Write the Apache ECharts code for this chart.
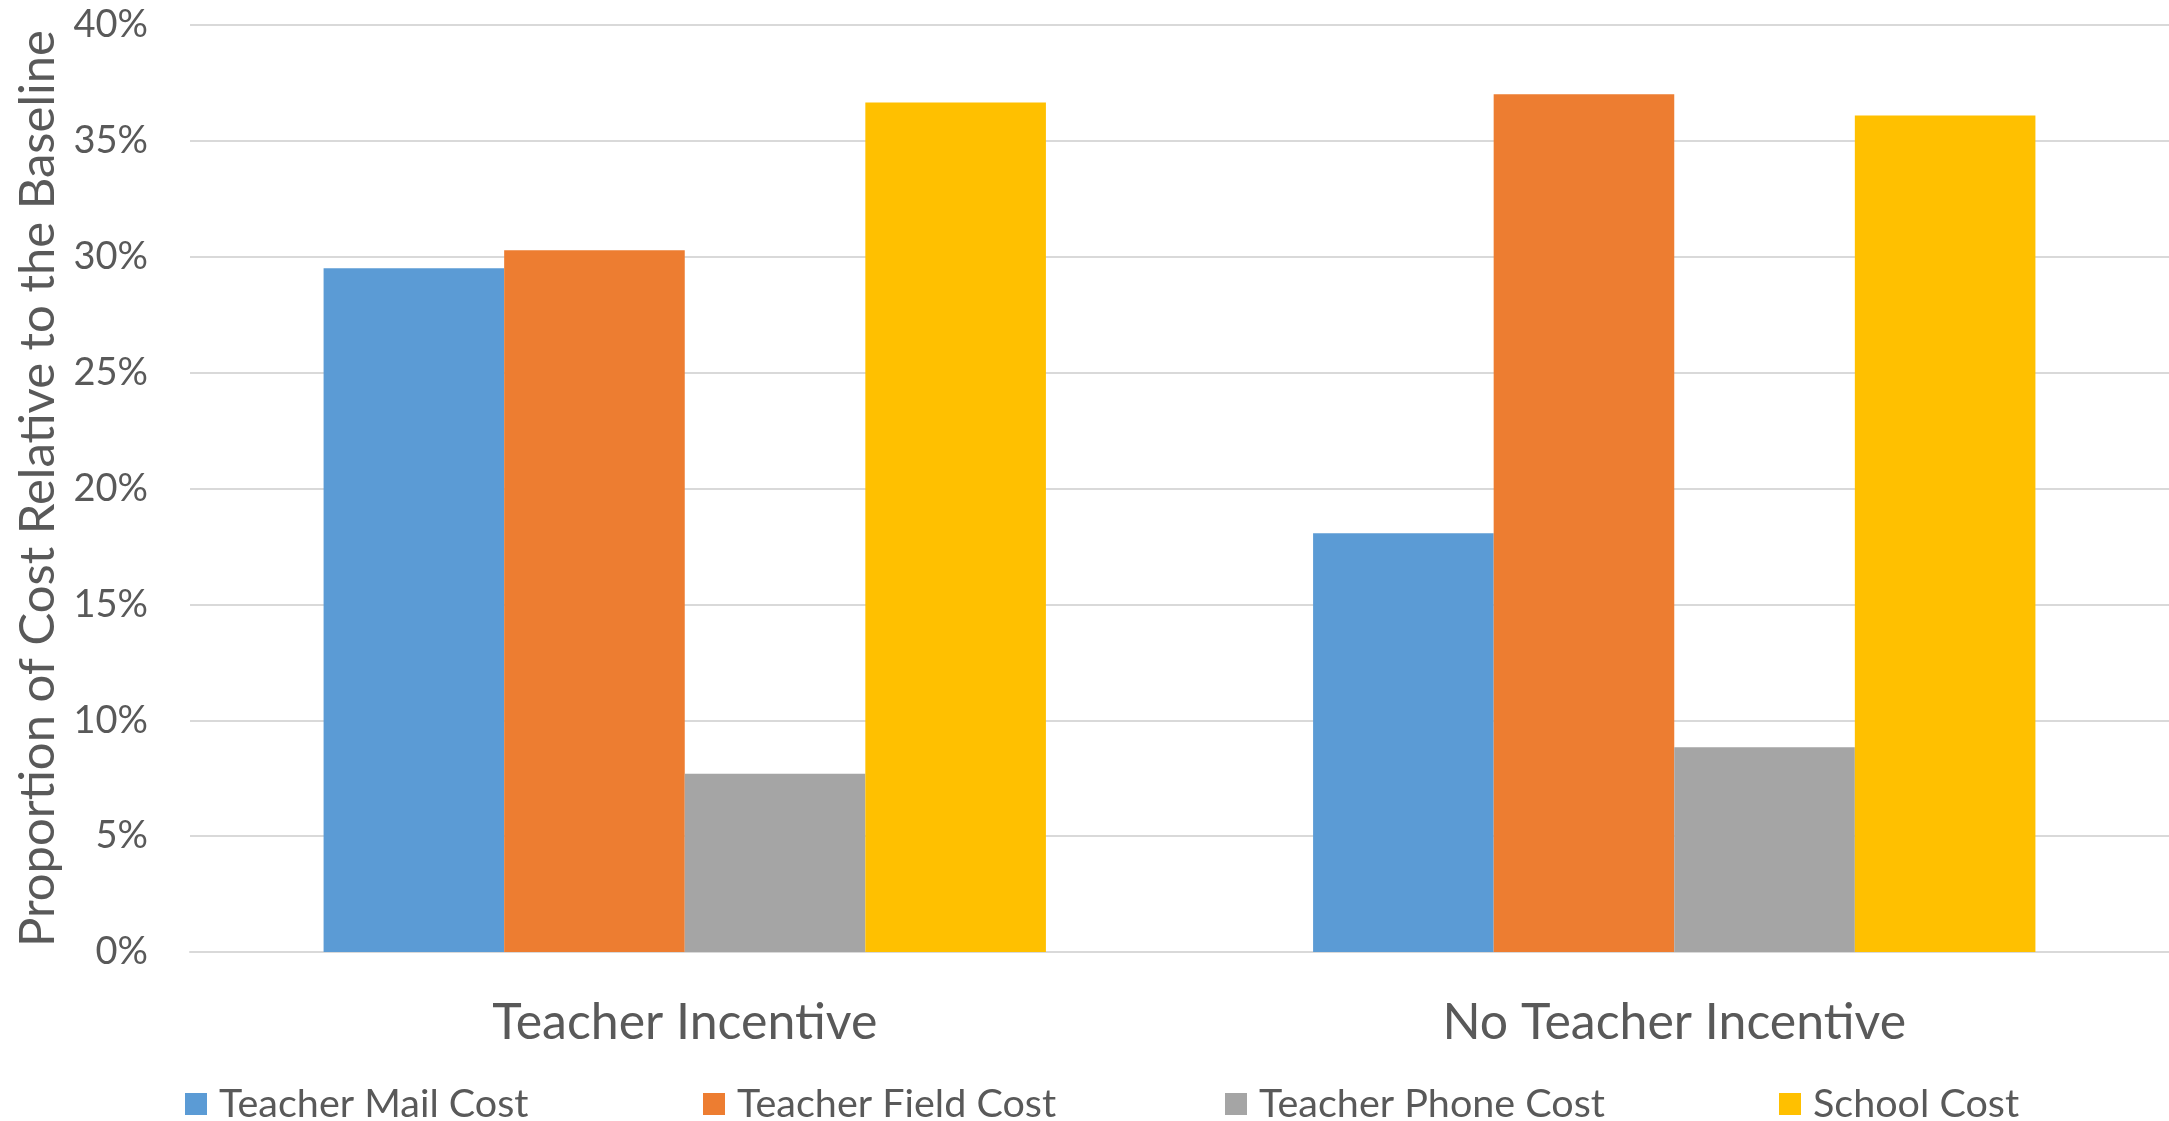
<!DOCTYPE html>
<html lang="en">
<head>
    <meta charset="UTF-8">
    <title>Cost relative to baseline</title>
    <script src="https://cdn.jsdelivr.net/npm/echarts@6/dist/echarts.min.js"></script>
    <style>
        *{
            margin: 0;
            padding: 0;
        }
        body{
            background-color: #fff;
            overflow: hidden;
        }
        #main{
            width: 2169px;
            height: 1121px;
        }
    </style>
</head>
<body>
<div id="main"></div>
<script>
    // categories and series (percent of baseline cost)
    var categories = ['Teacher Incentive', 'No Teacher Incentive'];
    var seriesNames = ['Teacher Mail Cost', 'Teacher Field Cost', 'Teacher Phone Cost', 'School Cost'];
    var mailCost = [29.5, 18.07];
    var fieldCost = [30.28, 37.01];
    var phoneCost = [7.69, 8.83];
    var schoolCost = [36.66, 36.09];
    var colors = ['#5B9BD5', '#ED7D31', '#A5A5A5', '#FFC000'];
    var yTicks = [0, 5, 10, 15, 20, 25, 30, 35, 40];

    var font = 'Lato';
    var textColor = '#595959';
    var values = [mailCost, fieldCost, phoneCost, schoolCost];

    var series = [];
    for (var i = 0; i < seriesNames.length; i++) {
        series.push({
            name: seriesNames[i],
            type: 'bar',
            barGap: '0%',
            barCategoryGap: '27%',
            itemStyle: {color: colors[i]},
            data: values[i]
        });
    }

    // one legend per item so each sits where Excel put it
    var legendLeft = [180, 698, 1220, 1774];
    var legends = [];
    for (var j = 0; j < seriesNames.length; j++) {
        legends.push({
            left: legendLeft[j],
            top: 1074,
            itemWidth: 22,
            itemHeight: 22,
            icon: 'rect',
            data: [seriesNames[j]],
            textStyle: {
                color: textColor,
                fontFamily: font,
                fontSize: 39.5,
                lineHeight: 50,
                padding: [0, 0, 0, 7]
            }
        });
    }

    var myChart = echarts.init(document.getElementById('main'));
    var option = {
        animation: false,
        color: colors,
        legend: legends,
        grid: {
            left: 190,
            right: 0,
            top: 25,
            bottom: 169
        },
        xAxis: {
            type: 'category',
            data: categories,
            axisTick: {show: false},
            axisLine: {lineStyle: {color: '#D9D9D9', width: 2}},
            axisLabel: {
                color: textColor,
                fontFamily: font,
                fontSize: 50,
                margin: 46
            }
        },
        yAxis: {
            type: 'value',
            min: yTicks[0],
            max: yTicks[yTicks.length - 1],
            interval: 5,
            name: 'Proportion of Cost Relative to the Baseline',
            nameLocation: 'middle',
            nameGap: 127,
            nameTextStyle: {
                color: textColor,
                fontFamily: font,
                fontSize: 49
            },
            axisLine: {show: false},
            axisTick: {show: false},
            splitLine: {lineStyle: {color: '#D9D9D9', width: 2}},
            axisLabel: {
                formatter: '{value}%',
                color: textColor,
                fontFamily: font,
                fontSize: 38,
                margin: 42
            }
        },
        series: series
    };
    myChart.setOption(option);
</script>
</body>
</html>
